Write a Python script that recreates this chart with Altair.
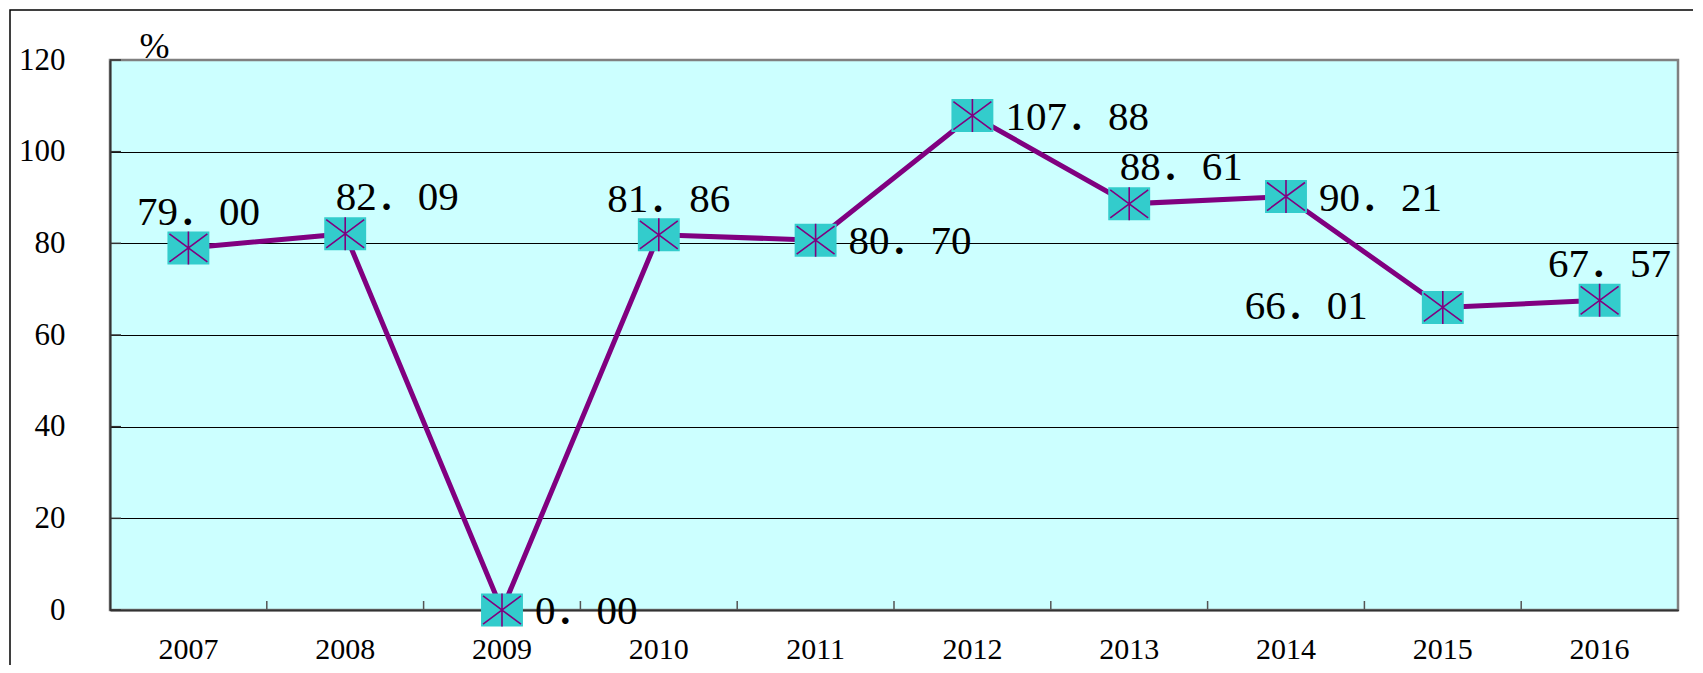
import altair as alt
import pandas as pd

# ---- data ----
years = ["2007", "2008", "2009", "2010", "2011", "2012", "2013", "2014", "2015", "2016"]
values = [79.00, 82.09, 0.00, 81.86, 80.70, 107.88, 88.61, 90.21, 66.01, 67.57]
placements = ["above", "above-right", "right", "above", "right",
              "right", "above-right", "right", "left", "above"]
y_ticks = [0, 20, 40, 60, 80, 100, 120]

W, H = 1568, 550
SERIF = "Liberation Serif, Noto Sans CJK SC"

df = pd.DataFrame({"year": years, "value": values, "place": placements})
bounds = pd.DataFrame({"year": years[1:]})
yt = pd.DataFrame({"v": y_ticks})
one = pd.DataFrame({"a": [1]})

xscale = alt.Scale(type="band", domain=years, paddingInner=0, paddingOuter=0)
yscale = alt.Scale(domain=[0, 120], nice=False, zero=True)

x_axis = alt.Axis(
    ticks=False, tickSize=0, labelFont=SERIF, labelFontSize=30, labelColor="black",
    labelPadding=48, labelBaseline="alphabetic", labelAngle=0,
    domainColor="#333333", domainWidth=2, grid=False, title=None,
)
y_axis = alt.Axis(
    values=y_ticks, ticks=False, tickSize=0, labelFont=SERIF, labelFontSize=31,
    labelColor="black", labelPadding=45, labelBaseline="middle",
    domainColor="#333333", domainWidth=2, grid=True,
    gridColor={"condition": {"test": "datum.value == 120", "value": "#808080"}, "value": "#000000"},
    gridWidth=1, title="%", titleAngle=0, titleAlign="left", titleBaseline="alphabetic",
    titleX=29, titleY=-3, titleFont=SERIF, titleFontSize=36, titleFontWeight="normal",
    titleColor="black",
)

X = lambda bp=0.5: alt.X("year:N", scale=xscale, axis=x_axis, bandPosition=bp)
Y = alt.Y("value:Q", scale=yscale, axis=y_axis)

frame = alt.Chart(one).mark_rect(fillOpacity=0, stroke="black", strokeWidth=1.5).encode(
    x=alt.value(-100), x2=alt.value(W + 100), y=alt.value(-50), y2=alt.value(H + 200)
)

xticks = alt.Chart(bounds).mark_rule(color="#555555", strokeWidth=1.5).encode(
    x=X(0), y=alt.value(H - 9), y2=alt.value(H)
)
yticks = alt.Chart(yt).mark_rule(color="#333333", strokeWidth=1.5).encode(
    y=alt.Y("v:Q", scale=yscale, axis=y_axis), x=alt.value(0), x2=alt.value(11)
)

base = alt.Chart(df)
line = base.mark_line(color="#800080", strokeWidth=5).encode(x=X(), y=Y)
boxes = base.mark_point(
    shape="M-1.27,-1H1.27V1H-1.27Z", size=1089, filled=True, fill="#33CCCC",
    opacity=1, strokeWidth=0,
).encode(x=X(), y=Y)
stars = base.mark_point(
    shape="M-1.15,-0.85L1.15,0.85M-1.15,0.85L1.15,-0.85M0,-1L0,1", size=1089,
    filled=False, stroke="#800080", strokeWidth=1.6, opacity=1,
).encode(x=X(), y=Y)

offsets = {
    "above": dict(dx=10, dy=-35, align="center"),
    "above-right": dict(dx=52, dy=-36, align="center"),
    "right": dict(dx=33, dy=2, align="left"),
    "left": dict(dx=-75, dy=0, align="right"),
}
texts = []
for place, o in offsets.items():
    texts.append(
        base.transform_filter(alt.datum.place == place)
        .transform_calculate(label="replace(format(datum.value, '.2f'), '.', '．')")
        .mark_text(font=SERIF, fontSize=41, color="black", baseline="middle", **o)
        .encode(x=X(), y=Y, text="label:N")
    )

chart = alt.layer(frame, xticks, yticks, line, boxes, stars, *texts).properties(
    width=W, height=H,
    autosize=alt.AutoSizeParams(type="none"),
    padding={"left": 102, "top": 52, "right": 15, "bottom": 55},
    background="white",
).configure_view(fill="#CCFFFF", stroke="#808080", strokeWidth=2.5)

chart.save("out.html", embed_options={"renderer": "svg", "actions": False})
